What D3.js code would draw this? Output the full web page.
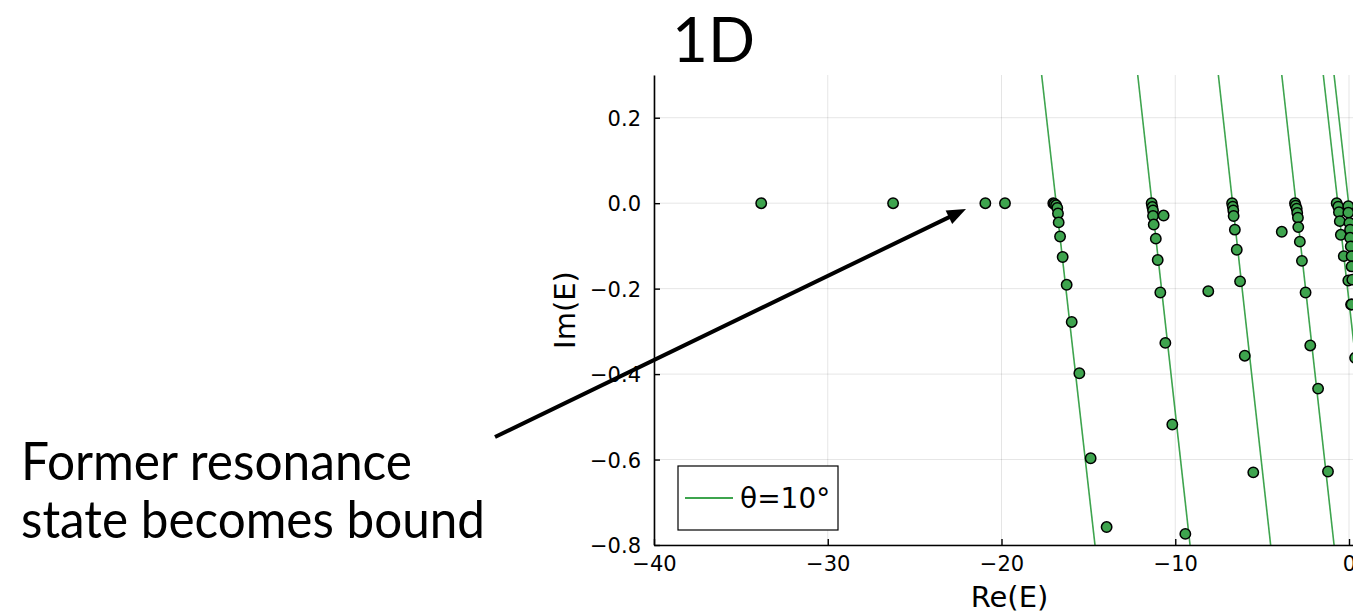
<!DOCTYPE html>
<html>
<head>
<meta charset="utf-8">
<script src="https://cdn.jsdelivr.net/npm/d3@7"></script>
<style>
  body { margin: 0; background: #fff; }
  svg { display: block; }
</style>
</head>
<body>
<div id="chart"></div>
<script>
// eigenvalues (Re(E), Im(E))
const boundRe = [-33.83, -26.24, -20.93, -19.80];
const boundIm = [0, 0, 0, 0];

const branch1Re = [-17.02, -16.95, -16.86, -16.79, -16.75, -16.71, -16.63, -16.48, -16.25, -15.96, -15.52, -14.87, -13.95];
const branch1Im = [0, -0.002, -0.005, -0.011, -0.024, -0.045, -0.078, -0.126, -0.191, -0.278, -0.398, -0.597, -0.758];

const branch2Re = [-11.36, -11.32, -11.28, -11.28, -11.24, -11.12, -11.01, -10.86, -10.57, -10.17, -9.42, -10.67, -8.10];
const branch2Im = [0, -0.009, -0.017, -0.030, -0.050, -0.083, -0.133, -0.209, -0.327, -0.518, -0.774, -0.029, -0.206];

const branch3Re = [-6.73, -6.69, -6.66, -6.64, -6.57, -6.46, -6.27, -6.00, -5.51, -3.87];
const branch3Im = [0, -0.008, -0.017, -0.030, -0.062, -0.109, -0.183, -0.357, -0.630, -0.067];

const branch4Re = [-3.11, -3.07, -3.01, -2.98, -2.94, -2.92, -2.83, -2.71, -2.50, -2.23, -1.78, -1.21];
const branch4Im = [0, -0.006, -0.013, -0.023, -0.034, -0.056, -0.090, -0.135, -0.209, -0.333, -0.434, -0.628];

const branch5Re = [-0.71, -0.62, -0.58, -0.53, -0.47, -0.30, -0.04, 0.12];
const branch5Im = [0, -0.008, -0.021, -0.042, -0.074, -0.124, -0.181, -0.237];

const branch6Re = [-0.04, -0.04, 0.02, 0.06, 0.06, 0.10, 0.15, 0.15, 0.19, 0.15, 0.35];
const branch6Im = [-0.007, -0.022, -0.046, -0.062, -0.081, -0.101, -0.124, -0.148, -0.179, -0.237, -0.362];

// rotated continuum lines: Re(E) where each leaves the top and bottom of the frame
const lineTopRe = [-17.69, -12.16, -7.52, -3.87, -1.48, -0.86];
const lineBottomRe = [-14.62, -9.15, -4.51, -0.86, 1.59, 2.21];
const lineIm = [0.3, -0.8];

const xTicks = [-40, -30, -20, -10, 0];
const yTicks = [0.2, 0.0, -0.2, -0.4, -0.6, -0.8];

const GREEN = "#3EA44E";
const W = 1353, H = 616;
const pLeft = 654, pRight = 1365, pTop = 75, pBottom = 545;

const svg = d3.select("#chart").append("svg")
    .attr("width", W)
    .attr("height", H);

const x = d3.scaleLinear().domain([-40, 0.92]).range([pLeft, pRight]);
const y = d3.scaleLinear().domain([-0.8, 0.3]).range([pBottom, pTop]);

// grid
xTicks.forEach(t => {
    svg.append("line")
        .attr("x1", x(t)).attr("x2", x(t))
        .attr("y1", pTop).attr("y2", pBottom)
        .attr("stroke", "#000").attr("stroke-opacity", 0.1).attr("stroke-width", 1);
});
yTicks.forEach(t => {
    svg.append("line")
        .attr("x1", pLeft).attr("x2", pRight)
        .attr("y1", y(t)).attr("y2", y(t))
        .attr("stroke", "#000").attr("stroke-opacity", 0.1).attr("stroke-width", 1);
});

// continuum lines
const line = d3.line().x(d => x(d[0])).y(d => y(d[1]));
for (let i = 0; i < lineTopRe.length; i++) {
    svg.append("path")
        .datum([[lineTopRe[i], lineIm[0]], [lineBottomRe[i], lineIm[1]]])
        .attr("d", line)
        .attr("fill", "none")
        .attr("stroke", GREEN)
        .attr("stroke-width", 1.6);
}

// axes
const xAxis = d3.axisBottom(x).tickValues(xTicks).tickSizeInner(-6).tickSizeOuter(0)
    .tickFormat(d => d3.format("d")(d).replace("-", "−"));
const yAxis = d3.axisLeft(y).tickValues(yTicks).tickSizeInner(-6).tickSizeOuter(0)
    .tickFormat(d => d3.format(".1f")(d).replace("-", "−"));

const gx = svg.append("g").attr("transform", `translate(0,${pBottom})`).call(xAxis);
const gy = svg.append("g").attr("transform", `translate(${pLeft},0)`).call(yAxis);
[gx, gy].forEach(g => {
    g.select(".domain").attr("stroke", "#000").attr("stroke-width", 1.6);
    g.selectAll(".tick line").attr("stroke", "#000").attr("stroke-width", 1.4);
    g.selectAll(".tick text")
        .attr("font-family", "DejaVu Sans")
        .attr("font-size", 21)
        .attr("fill", "#000");
});
gx.selectAll(".tick text").attr("dy", null).attr("y", 26);
gy.selectAll(".tick text").attr("x", -13).attr("dy", "0.36em");

// eigenvalue markers
const allRe = [].concat(boundRe, branch1Re, branch2Re, branch3Re, branch4Re, branch5Re, branch6Re);
const allIm = [].concat(boundIm, branch1Im, branch2Im, branch3Im, branch4Im, branch5Im, branch6Im);
svg.append("g").selectAll("circle")
    .data(allRe.map((r, i) => [r, allIm[i]]))
    .join("circle")
    .attr("cx", d => x(d[0]))
    .attr("cy", d => y(d[1]))
    .attr("r", 5.2)
    .attr("fill", GREEN)
    .attr("stroke", "#000")
    .attr("stroke-width", 1.5);

// legend
const lg = svg.append("g");
lg.append("rect")
    .attr("x", 678).attr("y", 466).attr("width", 160).attr("height", 64)
    .attr("fill", "#fff").attr("stroke", "#000").attr("stroke-width", 1.2);
lg.append("line")
    .attr("x1", 685).attr("x2", 733).attr("y1", 498).attr("y2", 498)
    .attr("stroke", GREEN).attr("stroke-width", 2);
lg.append("text")
    .attr("x", 740).attr("y", 508)
    .attr("font-family", "DejaVu Sans").attr("font-size", 28)
    .text("θ=10°");

// axis titles
svg.append("text")
    .attr("x", (pLeft + pRight) / 2).attr("y", 607)
    .attr("text-anchor", "middle")
    .attr("font-family", "DejaVu Sans").attr("font-size", 29)
    .text("Re(E)");
svg.append("text")
    .attr("transform", `translate(575,${(pTop + pBottom) / 2}) rotate(-90)`)
    .attr("text-anchor", "middle")
    .attr("font-family", "DejaVu Sans").attr("font-size", 29)
    .text("Im(E)");

// title
svg.append("text")
    .attr("x", 672).attr("y", 62)
    .attr("font-family", "Lato, 'Noto Sans', sans-serif").attr("font-size", 62)
    .attr("textLength", 83).attr("lengthAdjust", "spacingAndGlyphs")
    .text("1D");

// annotation
const note = svg.append("g")
    .attr("font-family", "Lato, 'Noto Sans', sans-serif")
    .attr("font-size", 52)
    .attr("fill", "#000");
note.append("text").attr("x", 21).attr("y", 480)
    .attr("textLength", 391).attr("lengthAdjust", "spacingAndGlyphs")
    .text("Former resonance");
note.append("text").attr("x", 21).attr("y", 538)
    .attr("textLength", 464).attr("lengthAdjust", "spacingAndGlyphs")
    .text("state becomes bound");

const ax0 = 495, ay0 = 437, ax1 = 966, ay1 = 209;
const len = Math.hypot(ax1 - ax0, ay1 - ay0);
const ux = (ax1 - ax0) / len, uy = (ay1 - ay0) / len;
const headL = 19, headW = 7.5;
svg.append("line")
    .attr("x1", ax0).attr("y1", ay0)
    .attr("x2", ax1 - ux * headL * 0.8).attr("y2", ay1 - uy * headL * 0.8)
    .attr("stroke", "#000").attr("stroke-width", 4);
const bx = ax1 - ux * headL, by = ay1 - uy * headL;
svg.append("polygon")
    .attr("points", [
        [ax1, ay1],
        [bx - uy * headW, by + ux * headW],
        [bx + uy * headW, by - ux * headW]
    ].map(p => p.join(",")).join(" "))
    .attr("fill", "#000");
</script>
</body>
</html>
